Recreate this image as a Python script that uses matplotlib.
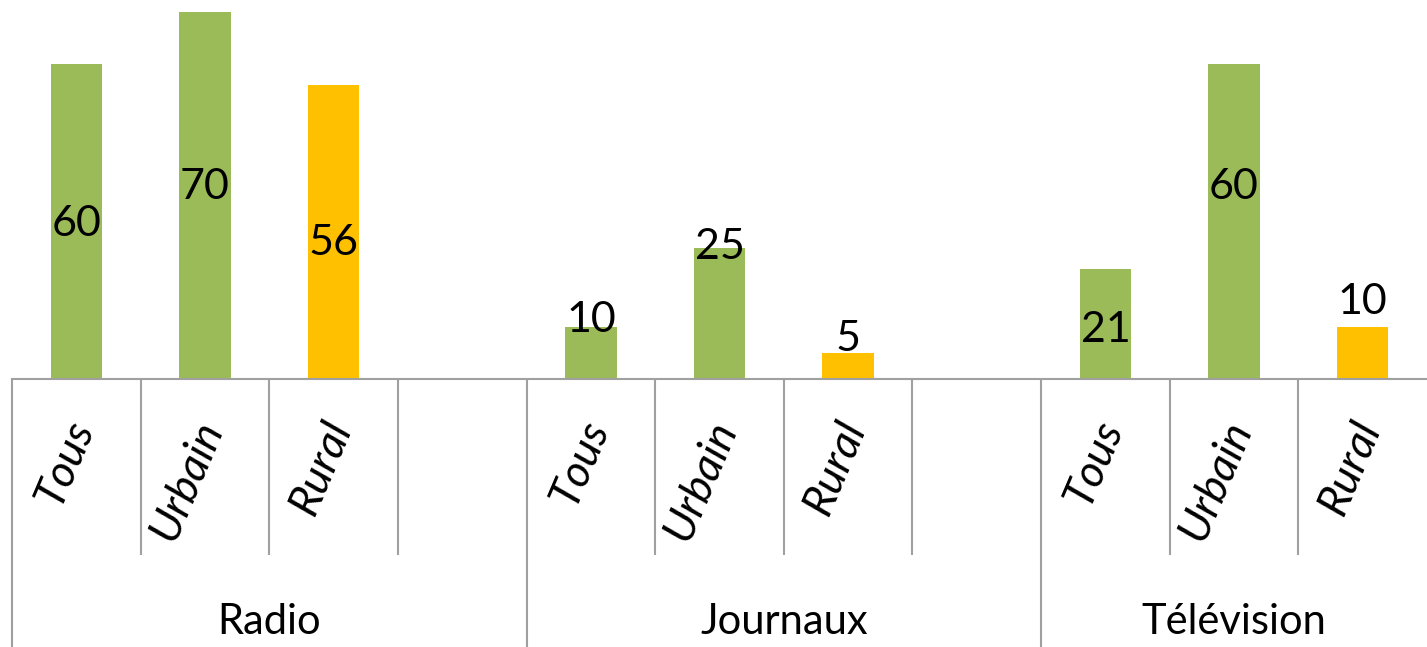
import matplotlib.pyplot as plt
from matplotlib import transforms

plt.rcParams['font.family'] = ['Lato', 'DejaVu Sans']

groups = ["Radio", "Journaux", "Télévision"]
subcats = ["Tous", "Urbain", "Rural"]
radio_vals = [60, 70, 56]
journaux_vals = [10, 25, 5]
tele_vals = [21, 60, 10]
# where the value labels sit (data units), as placed by hand in the original
radio_lbl = [29.6, 36.6, 26.0]
journaux_lbl = [11.2, 25.1, 7.6]
tele_lbl = [9.3, 36.6, 14.6]

green = '#9BBB59'
orange = '#FFC000'
grey = '#a0a0a0'
bar_colors = [green, green, orange]

fig = plt.figure(figsize=(14.27, 6.47), dpi=100)
ax = fig.add_axes([12 / 1427, 268 / 647, 1415 / 1427, 379 / 647])

all_vals = [radio_vals, journaux_vals, tele_vals]
all_lbl = [radio_lbl, journaux_lbl, tele_lbl]
for g, (vals, lbls) in enumerate(zip(all_vals, all_lbl)):
    xs = [g * 4 + i for i in range(len(vals))]
    ax.bar(xs, vals, width=0.4, color=bar_colors, zorder=2)
    for x, v, ly in zip(xs, vals, lbls):
        ax.text(x, ly, str(v), ha='center', va='center', fontsize=31, zorder=3)

ax.set_xlim(-0.5, 10.5)
ax.set_ylim(0, 72.3)
ax.set_xticks([])
ax.set_yticks([])
for s in ['top', 'left', 'right']:
    ax.spines[s].set_visible(False)
ax.spines['bottom'].set_color(grey)
ax.spines['bottom'].set_linewidth(1.5)

trans = transforms.blended_transform_factory(ax.transData, ax.transAxes)
n_slots = 11
for b in range(n_slots):
    edge = b - 0.5
    low = -0.707 if b % 4 == 0 else -0.464
    ax.plot([edge, edge], [0, low], color=grey, lw=1.5, transform=trans,
            clip_on=False, solid_capstyle='butt')

# sub-category labels
for g in range(len(groups)):
    for i, name in enumerate(subcats):
        x = g * 4 + i
        ax.text(x + 0.05, -0.115, name, rotation=67, rotation_mode='anchor',
                ha='right', va='center', fontsize=32, style='italic',
                transform=trans)

# group labels
centers = [1.5, 5.5, 9.0]
for c, name in zip(centers, groups):
    ax.text(c, -0.64, name, ha='center', va='center', fontsize=30,
            transform=trans)

fig.savefig('out.png', dpi=100)
